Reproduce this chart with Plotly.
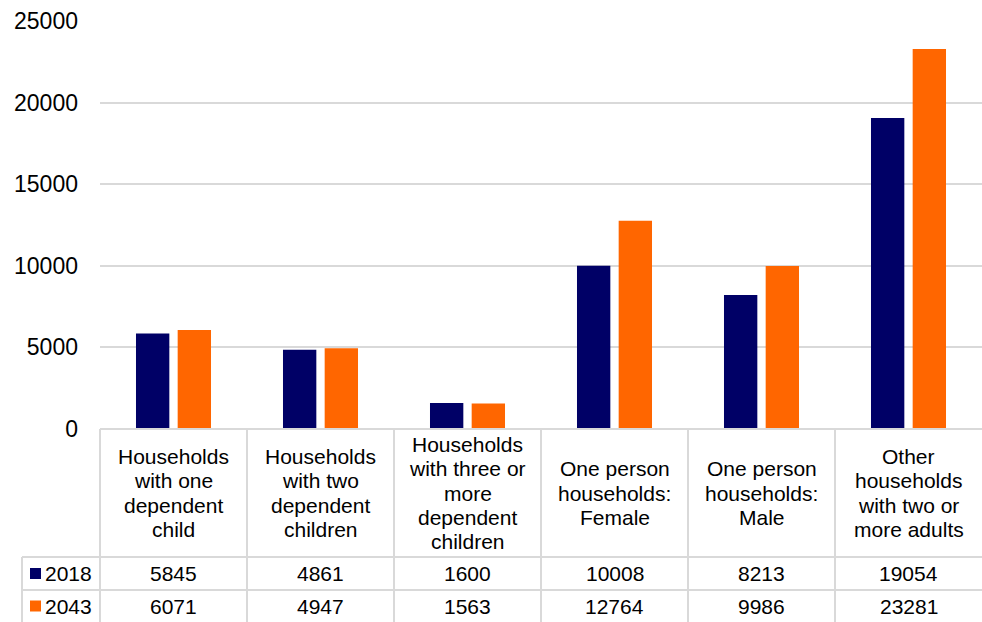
import plotly.graph_objects as go

# ---------------- data ----------------
categories = [
    "Households with one dependent child",
    "Households with two dependent children",
    "Households with three or more dependent children",
    "One person households: Female",
    "One person households: Male",
    "Other households with two or more adults",
]
header_lines = [
    ["Households", "with one", "dependent", "child"],
    ["Households", "with two", "dependent", "children"],
    ["Households", "with three or", "more", "dependent", "children"],
    ["One person", "households:", "Female"],
    ["One person", "households:", "Male"],
    ["Other", "households", "with two or", "more adults"],
]
years = ["2018", "2043"]
values_2018 = [5845, 4861, 1600, 10008, 8213, 19054]
values_2043 = [6071, 4947, 1563, 12764, 9986, 23281]
series = [values_2018, values_2043]
colors = ["#000066", "#FF6600"]
y_ticks = [0, 5000, 10000, 15000, 20000, 25000]

# ---------------- layout geometry ----------------
W, H = 982, 622
L, R, T, B = 100, 0, 21, 0
PW, PH = W - L - R, H - T - B
FONT = "Liberation Sans, Arial, sans-serif"
GRID = "#d9d9d9"


def px_x(px):
    return (px - L) / PW


def px_y(py):
    return (H - B - py) / PH


axis_bottom_px = 429
header_bottom_px = 557
row1_bottom_px = 590
row2_bottom_px = 622
legend_left_px = 22
line_h = 24.4
n = len(categories)

fig = go.Figure()
for name, vals, col in zip(years, series, colors):
    fig.add_trace(go.Bar(x=list(range(n)), y=vals, name=name, marker_color=col,
                         marker_line_width=0))

shapes = []
annotations = []

# horizontal table lines
for py, x0 in [(axis_bottom_px, 0), (header_bottom_px, px_x(legend_left_px)),
               (row1_bottom_px, px_x(legend_left_px))]:
    shapes.append(dict(type="line", xref="paper", yref="paper", x0=x0, x1=1,
                       y0=px_y(py), y1=px_y(py), line=dict(color=GRID, width=2)))
# vertical category boundaries
for i in range(n):
    shapes.append(dict(type="line", xref="x domain", yref="paper", x0=i / n, x1=i / n,
                       y0=px_y(axis_bottom_px), y1=0, line=dict(color=GRID, width=2)))
# legend column left border
shapes.append(dict(type="line", xref="paper", yref="paper", x0=px_x(legend_left_px),
                   x1=px_x(legend_left_px), y0=px_y(header_bottom_px), y1=0,
                   line=dict(color=GRID, width=2)))

# header text
head_center = (axis_bottom_px + header_bottom_px) / 2
for i, lines in enumerate(header_lines):
    m = len(lines)
    for k, t in enumerate(lines):
        py = head_center + (k - (m - 1) / 2) * line_h
        annotations.append(dict(x=i, xref="x", y=px_y(py), yref="paper", text=t,
                                showarrow=False, xanchor="center", yanchor="middle",
                                font=dict(family=FONT, size=21, color="#000")))

# value rows + legend keys
row_bounds = [(header_bottom_px, row1_bottom_px), (row1_bottom_px, row2_bottom_px)]
for (top, bot), name, vals, col in zip(row_bounds, years, series, colors):
    cy = (top + bot) / 2
    for i, v in enumerate(vals):
        annotations.append(dict(x=i, xref="x", y=px_y(cy), yref="paper", text=str(v),
                                showarrow=False, xanchor="center", yanchor="middle",
                                font=dict(family=FONT, size=21, color="#000")))
    shapes.append(dict(type="rect", xref="paper", yref="paper", x0=px_x(30), x1=px_x(41),
                       y0=px_y(cy + 5.5), y1=px_y(cy - 5.5), fillcolor=col,
                       line=dict(width=0)))
    annotations.append(dict(x=px_x(43), xref="paper", y=px_y(cy), yref="paper", text=name,
                            showarrow=False, xanchor="left", yanchor="middle",
                            font=dict(family=FONT, size=21, color="#000")))

fig.update_layout(
    width=W, height=H,
    margin=dict(l=L, r=R, t=T, b=B, pad=0, autoexpand=False),
    paper_bgcolor="white", plot_bgcolor="white",
    showlegend=False,
    barmode="group", bargap=0.433, bargroupgap=0.2,
    font=dict(family=FONT, color="#000"),
    xaxis=dict(range=[-0.5, n - 0.5], showticklabels=False, showgrid=False,
               zeroline=False, showline=False, ticks="", automargin=False),
    yaxis=dict(domain=[px_y(axis_bottom_px), 1], range=[0, 25000], tickvals=y_ticks,
               tickformat="d", showgrid=True, gridcolor=GRID, gridwidth=1.5,
               zeroline=False, showline=False, ticks="", ticklabelstandoff=21,
               automargin=False, tickfont=dict(family=FONT, size=23, color="#000")),
    shapes=shapes,
    annotations=annotations,
)

fig.write_html("out.html")
